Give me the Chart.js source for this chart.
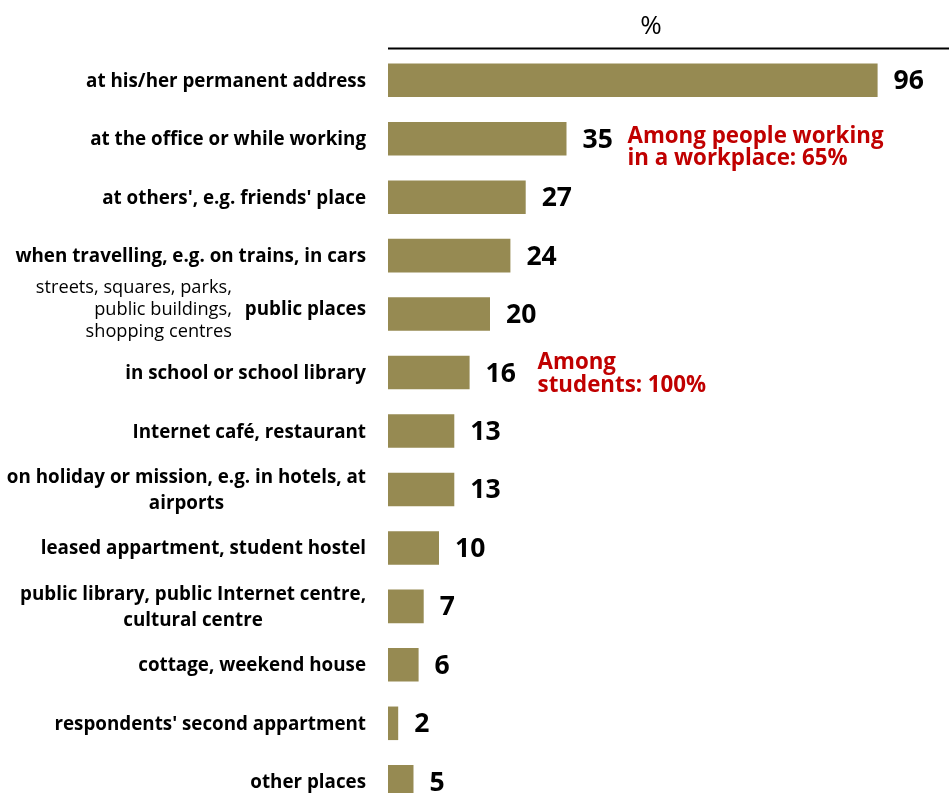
<!DOCTYPE html>
<html>
<head>
<meta charset="utf-8">
<script src="https://cdn.jsdelivr.net/npm/chart.js@4/dist/chart.umd.min.js"></script>
<style>
  html, body { margin: 0; padding: 0; overflow: hidden; background: #ffffff; }
  #wrap { position: relative; width: 949px; height: 811px; }
</style>
</head>
<body>
<div id="wrap"><canvas id="chart"></canvas></div>
<script>
// Places where the Internet is used (%)
const categories = [
  ["at his/her permanent address"],
  ["at the office or while working"],
  ["at others', e.g. friends' place"],
  ["when travelling, e.g. on trains, in cars"],
  ["public places"],
  ["in school or school library"],
  ["Internet café, restaurant"],
  ["on holiday or mission, e.g. in hotels, at", "airports"],
  ["leased appartment, student hostel"],
  ["public library, public Internet centre,", "cultural centre"],
  ["cottage, weekend house"],
  ["respondents' second appartment"],
  ["other places"]
];
const values = [96, 35, 27, 24, 20, 16, 13, 13, 10, 7, 6, 2, 5];

// Small explanatory note beside the "public places" label
const subNoteIndex = 4;
const subNoteLines = ["streets, squares, parks,", "public buildings,", "shopping centres"];

// Red remarks next to selected bars
const remarkIndex = [1, 5];
const remarkLines = [
  ["Among people working", "in a workplace: 65%"],
  ["Among", "students: 100%"]
];

const unitLabel = "%";

const FONT = "'Open Sans', Lato, 'DejaVu Sans', sans-serif";
const BAR_COLOR = "#968a52";
const REMARK_COLOR = "#c00000";

const decorations = {
  id: "decorations",
  afterDatasetsDraw(chart) {
    const { ctx, chartArea, scales } = chart;
    const xs = scales.x, ys = scales.y;
    ctx.save();

    // header rule and unit label
    ctx.strokeStyle = "#000";
    ctx.lineWidth = 2;
    ctx.beginPath();
    ctx.moveTo(chartArea.left, chartArea.top - 2.5);
    ctx.lineTo(chartArea.right, chartArea.top - 2.5);
    ctx.stroke();
    ctx.fillStyle = "#000";
    ctx.font = "26px " + FONT;
    ctx.textAlign = "center";
    ctx.textBaseline = "alphabetic";
    ctx.fillText(unitLabel, chartArea.left + 0.469 * (chartArea.right - chartArea.left), 34);

    // category labels: block right-aligned, lines centred within the block
    const labelRight = chartArea.left - 22;
    ctx.font = "bold 18.8px " + FONT;
    categories.forEach((lines, i) => {
      let yc = ys.getPixelForValue(i);
      if (i === subNoteIndex) yc -= 5.8;
      const blockW = Math.max(...lines.map(l => ctx.measureText(l).width));
      const lh = 26.5;
      const y0 = yc - (lines.length - 1) * lh / 2 + 6.5;
      ctx.textAlign = "center";
      lines.forEach((l, k) => ctx.fillText(l, labelRight - blockW / 2, y0 + k * lh));
    });

    // note beside "public places", middle line sharing the label's baseline
    {
      const mainW = ctx.measureText(categories[subNoteIndex][0]).width;
      ctx.font = "18.2px " + FONT;
      ctx.textAlign = "right";
      const yb = ys.getPixelForValue(subNoteIndex) + 0.7;
      const lh = 22;
      subNoteLines.forEach((l, k) =>
        ctx.fillText(l, labelRight - mainW - 13, yb + (k - 1) * lh));
    }

    // value labels at the bar ends
    ctx.font = "bold 26.5px " + FONT;
    ctx.textAlign = "left";
    values.forEach((v, i) => {
      ctx.fillText(String(v), xs.getPixelForValue(v) + 16, ys.getPixelForValue(i) + 9);
    });

    // red remarks
    ctx.fillStyle = REMARK_COLOR;
    ctx.font = "bold 22.3px " + FONT;
    const remarkGap = [61, 68];
    const remarkShift = [4.6, -3.5];
    const remarkLine = [21.6, 23];
    remarkIndex.forEach((idx, r) => {
      const x = xs.getPixelForValue(values[idx]) + remarkGap[r];
      const yb = ys.getPixelForValue(idx) + remarkShift[r];
      remarkLines[r].forEach((l, k) => ctx.fillText(l, x, yb + k * remarkLine[r]));
    });

    ctx.restore();
  }
};

new Chart(document.getElementById("chart"), {
  type: "bar",
  data: {
    labels: categories.map(c => c.join(" ")),
    datasets: [{
      data: values,
      backgroundColor: BAR_COLOR,
      borderWidth: 0,
      barPercentage: 0.574,
      categoryPercentage: 1
    }]
  },
  options: {
    indexAxis: "y",
    responsive: true,
    maintainAspectRatio: false,
    animation: false,
    layout: { padding: { left: 388, top: 51, right: 0, bottom: 0 } },
    plugins: {
      legend: { display: false },
      tooltip: { enabled: false }
    },
    scales: {
      x: { display: false, min: 0, max: 110 },
      y: { display: false }
    }
  },
  plugins: [decorations]
});
</script>
</body>
</html>
